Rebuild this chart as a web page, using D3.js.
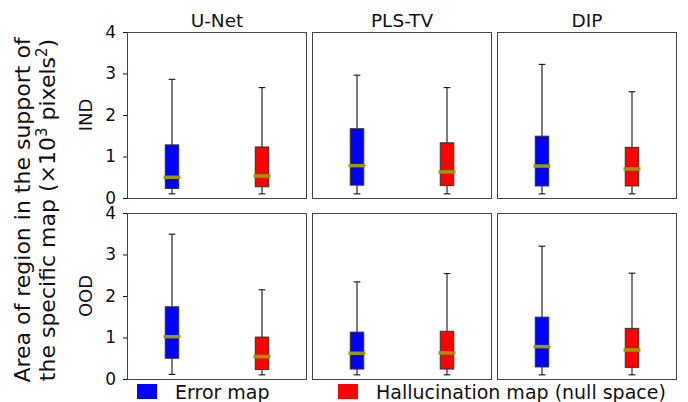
<!DOCTYPE html>
<html>
<head>
<meta charset="utf-8">
<script src="https://cdn.jsdelivr.net/npm/d3@7"></script>
<style>
  html, body { margin: 0; padding: 0; background: #fff; }
  svg { display: block; font-family: "DejaVu Sans", sans-serif; }
</style>
</head>
<body>
<svg id="chart" width="688" height="402"></svg>
<script>
// ---- data ----
const methods = ["U-Net", "PLS-TV", "DIP"];
const rows = ["IND", "OOD"];
const seriesNames = ["Error map", "Hallucination map (null space)"];
const seriesColors = ["#0000ff", "#ff0000"];
const yTicks = [0, 1, 2, 3, 4];
// each entry: [whiskerLow, q1, median, q3, whiskerHigh] per method
const errorIND = [[0.10, 0.23, 0.50, 1.28, 2.86], [0.10, 0.31, 0.78, 1.67, 2.96], [0.10, 0.29, 0.77, 1.49, 3.22]];
const hallIND  = [[0.10, 0.27, 0.53, 1.23, 2.66], [0.10, 0.30, 0.63, 1.33, 2.66], [0.10, 0.29, 0.70, 1.22, 2.56]];
const errorOOD = [[0.11, 0.50, 1.02, 1.74, 3.49], [0.10, 0.24, 0.62, 1.13, 2.34], [0.10, 0.29, 0.78, 1.49, 3.20]];
const hallOOD  = [[0.10, 0.23, 0.54, 1.01, 2.15], [0.10, 0.24, 0.63, 1.15, 2.54], [0.10, 0.28, 0.70, 1.22, 2.55]];

const dataByRow = [[errorIND, hallIND], [errorOOD, hallOOD]];

// ---- layout ----
const svg = d3.select("#chart");
const panelW = 180, panelH = 166, gapX = 5, gapY = 15;
const left0 = 127, top0 = 32;
const boxWidth = 0.15;

const x = d3.scaleLinear().domain([0.5, 2.5]).range([0, panelW]);
const y = d3.scaleLinear().domain([0, 4]).range([panelH, 0]);

rows.forEach((rowName, ri) => {
  methods.forEach((m, ci) => {
    const px = left0 + ci * (panelW + gapX);
    const py = top0 + ri * (panelH + gapY);
    const g = svg.append("g").attr("transform", `translate(${px},${py})`);

    if (ci === 0) {
      const ax = g.append("g").call(d3.axisLeft(y).tickValues(yTicks).tickFormat(d3.format("d")).tickSize(4).tickPadding(7));
      ax.select(".domain").remove();
      ax.selectAll("line").attr("stroke", "#111");
      ax.selectAll("text").attr("font-size", 17).attr("fill", "#111").attr("font-family", "DejaVu Sans");
    }

    dataByRow[ri].forEach((series, si) => {
      const s = series[ci];
      const cx = x(si + 1);
      const hw = x(si + 1 + boxWidth / 2) - cx;
      const bg = g.append("g");
      // whiskers
      bg.append("line").attr("x1", cx).attr("x2", cx).attr("y1", y(s[3])).attr("y2", y(s[4])).attr("stroke", "#111").attr("stroke-width", 1.1);
      bg.append("line").attr("x1", cx).attr("x2", cx).attr("y1", y(s[0])).attr("y2", y(s[1])).attr("stroke", "#111").attr("stroke-width", 1.1);
      // caps
      [s[0], s[4]].forEach(v => {
        bg.append("line").attr("x1", cx - hw / 2).attr("x2", cx + hw / 2).attr("y1", y(v)).attr("y2", y(v)).attr("stroke", "#111").attr("stroke-width", 1.1);
      });
      // box
      bg.append("rect").attr("x", cx - hw).attr("width", 2 * hw)
        .attr("y", y(s[3])).attr("height", y(s[1]) - y(s[3]))
        .attr("fill", seriesColors[si]).attr("stroke", "#333").attr("stroke-width", 1);
      // median
      bg.append("line").attr("x1", cx - hw).attr("x2", cx + hw).attr("y1", y(s[2])).attr("y2", y(s[2]))
        .attr("stroke", "#9b9b00").attr("stroke-width", 3.5).attr("stroke-linecap", "square");
    });

    // frame
    g.append("rect").attr("x", 0.5).attr("y", 0.5).attr("width", panelW - 1).attr("height", panelH)
      .attr("fill", "none").attr("stroke", "#444").attr("stroke-width", 1);

    if (ri === 0) {
      g.append("text").attr("x", panelW / 2).attr("y", -5).attr("text-anchor", "middle")
        .attr("font-size", 18.5).attr("fill", "#111").text(m);
    }
  });

  // row label
  const cy = top0 + ri * (panelH + gapY) + panelH / 2;
  svg.append("text").attr("transform", `translate(92,${cy}) rotate(-90)`)
    .attr("text-anchor", "middle").attr("font-size", 18).attr("fill", "#111").text(rowName);
});

// y label (two lines)
const ylab = svg.append("text").attr("transform", "translate(0,210) rotate(-90)")
  .attr("text-anchor", "middle").attr("font-size", 22).attr("fill", "#111");
ylab.append("tspan").attr("x", 0).attr("y", 30).text("Area of region in the support of");
const l2 = ylab.append("tspan").attr("x", 0).attr("y", 55);
l2.append("tspan").text("the specific map (\u00d710");
l2.append("tspan").attr("dy", -8).attr("font-size", 15).text("3");
l2.append("tspan").attr("dy", 8).text(" pixels");
l2.append("tspan").attr("dy", -8).attr("font-size", 15).text("2");
l2.append("tspan").attr("dy", 8).text(")");

// legend
const legX = [137, 338];
seriesNames.forEach((name, i) => {
  svg.append("rect").attr("x", legX[i]).attr("y", 384).attr("width", 20).attr("height", 15).attr("fill", seriesColors[i]);
  svg.append("text").attr("x", legX[i] + 38).attr("y", 399).attr("font-size", 19).attr("fill", "#111").text(name);
});
</script>
</body>
</html>
